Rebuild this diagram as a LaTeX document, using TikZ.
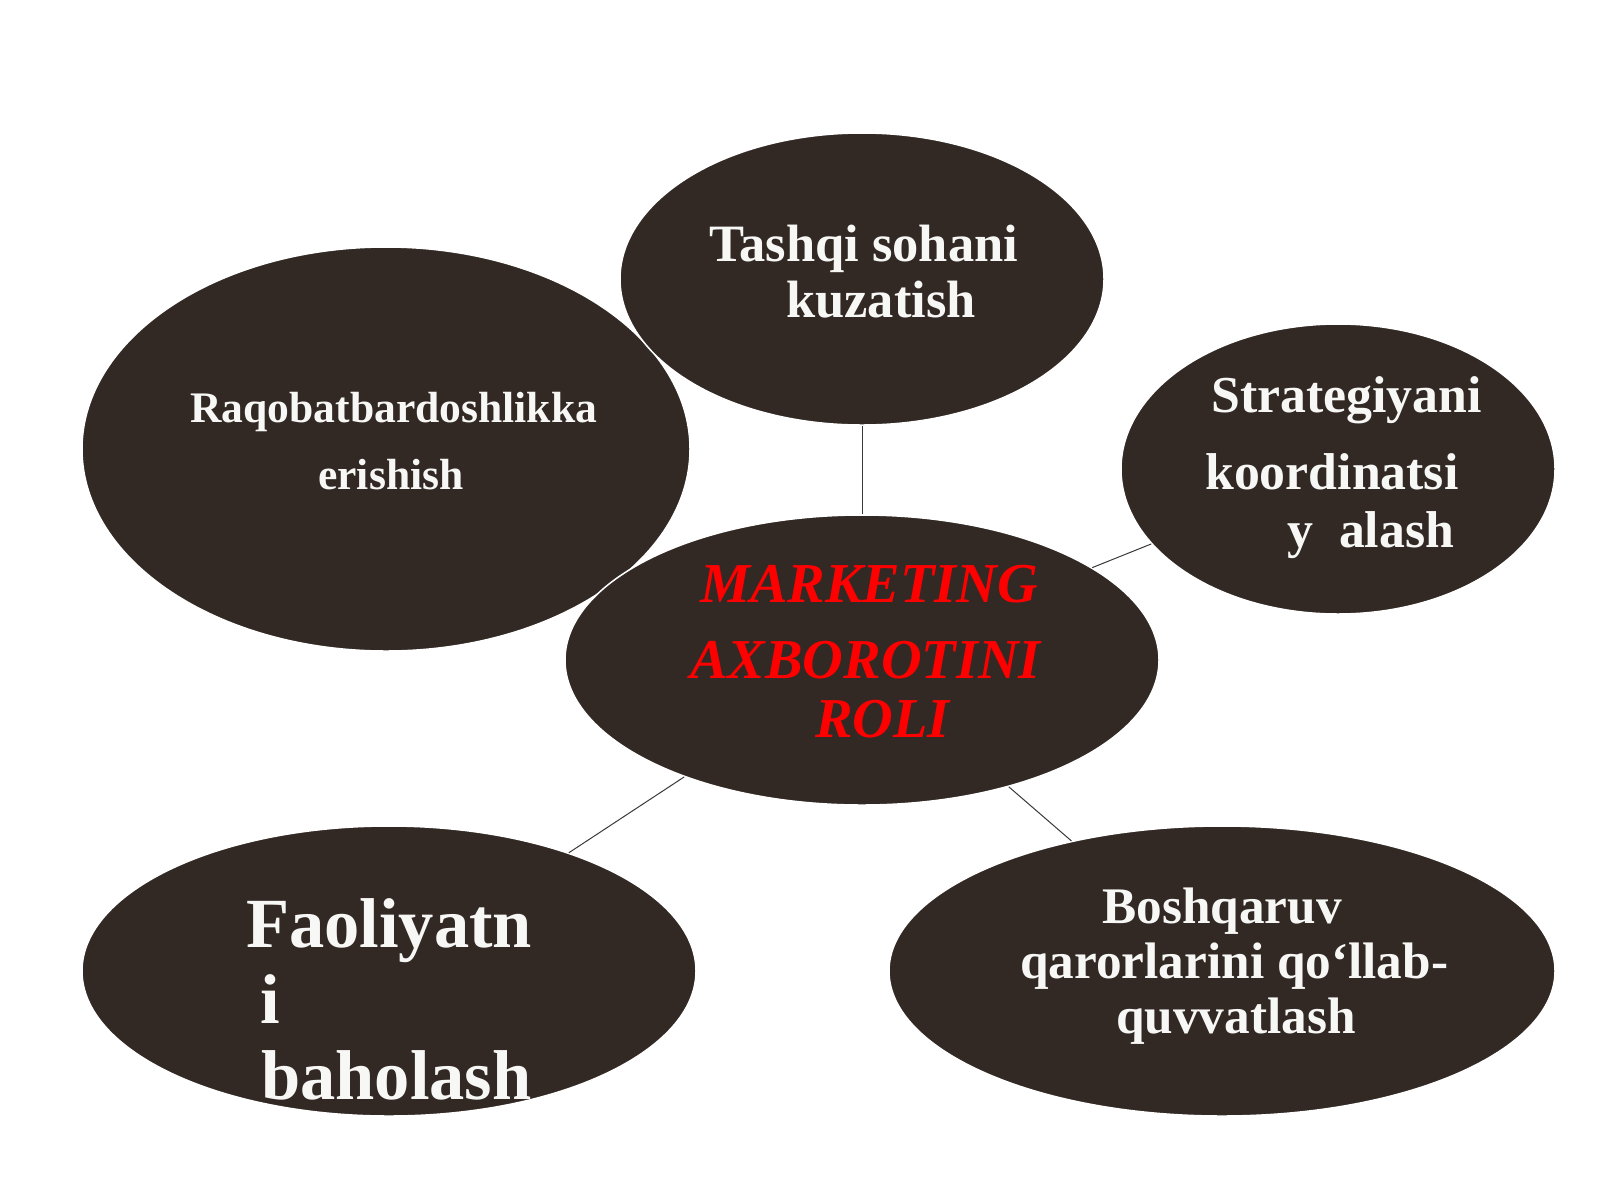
\documentclass[tikz,border=0pt]{standalone}
\usepackage{fontspec}
\setmainfont{Liberation Serif}
\usetikzlibrary{shapes.geometric}
\definecolor{bubblefill}{HTML}{322925}
\definecolor{textwhite}{HTML}{F7F7F5}
\definecolor{titlered}{HTML}{FF0000}
\definecolor{linegray}{HTML}{3A3A3A}
\tikzset{
  bubble/.style={ellipse, fill=bubblefill, draw=white, line width=1.5pt, inner sep=0pt},
  txt/.style={anchor=base west, inner sep=0pt, text=textwhite},
  redtxt/.style={anchor=base west, inner sep=0pt, text=titlered,
    font=\bfseries\itshape\fontsize{56.3}{60}\selectfont},
  link/.style={draw=linegray, line width=1pt}
}
\begin{document}
\begin{tikzpicture}[x=1pt,y=-1pt]
\useasboundingbox[fill=white] (0,0) rectangle (1600,1200);
% bubbles
\node[bubble, minimum width=608pt, minimum height=404pt] (left) at (386,449) {};
\node[bubble, minimum width=484pt, minimum height=292pt] (top) at (862,279) {};
\node[bubble, minimum width=434pt, minimum height=290pt] (right) at (1338,469) {};
\node[bubble, minimum width=594pt, minimum height=290pt] (center) at (862,660) {};
\node[bubble, minimum width=614pt, minimum height=290pt] (bl) at (389,971) {};
\node[bubble, minimum width=666pt, minimum height=290pt] (br) at (1222,971) {};
% connectors
\draw[link] (center) -- (top);
\draw[link] (center) -- (right);
\draw[link] (center) -- (bl);
\draw[link] (center) -- (br);
% texts: top
\begin{scope}[every node/.append style={font=\bfseries\fontsize{52.5}{60}\selectfont}]
\node[txt] (t1) at (709,261) {Tashqi sohani};
\node[txt] (t2) at (786,317) {kuzatish};
\end{scope}
% left
\begin{scope}[every node/.append style={font=\bfseries\fontsize{43.6}{50}\selectfont}]
\node[txt] (l1) at (190,422) {Raqobatbardoshlikka};
\node[txt] (l2) at (318,489) {erishish};
\end{scope}
% right
\begin{scope}[every node/.append style={font=\bfseries\fontsize{51.8}{60}\selectfont}]
\node[txt] (r1) at (1211,412) {Strategiyani};
\node[txt] (r2) at (1205,489) {koordinatsi};
\node[txt] (r3) at (1287,547) {y\ \ alash};
\end{scope}
% center
\node[redtxt] (c1) at (700,602) {MARKETING};
\node[redtxt] (c2) at (690,678) {AXBOROTINI};
\node[redtxt] (c3) at (815,737) {ROLI};
% bottom left
\begin{scope}[every node/.append style={font=\bfseries\fontsize{70.5}{80}\selectfont}]
\node[txt] (b1) at (246,947) {Faoliyatn};
\node[txt] (b2) at (260,1023) {i};
\node[txt] (b3) at (261,1099) {baholash};
\end{scope}
% bottom right
\begin{scope}[every node/.append style={font=\bfseries\fontsize{51.3}{60}\selectfont}]
\node[txt] (d1) at (1102,923) {Boshqaruv};
\node[txt] (d2) at (1020,978) {qarorlarini qo‘llab-};
\node[txt] (d3) at (1116,1033) {quvvatlash};
\end{scope}
\end{tikzpicture}
\end{document}
